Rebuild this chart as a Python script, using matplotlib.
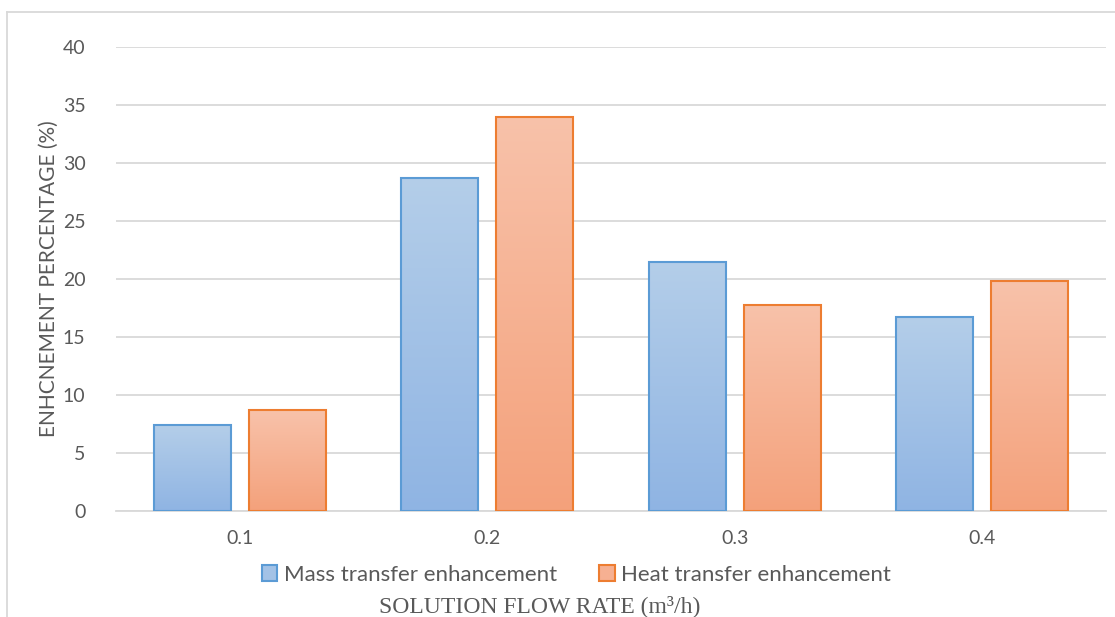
import numpy as np
import matplotlib
matplotlib.use("Agg")
import matplotlib.pyplot as plt
from matplotlib.colors import LinearSegmentedColormap
from matplotlib.patches import Patch
from matplotlib.lines import Line2D

categories = ["0.1", "0.2", "0.3", "0.4"]
mass_transfer = [7.4, 28.7, 21.5, 16.7]
heat_transfer = [8.7, 34.0, 17.8, 19.8]
series_names = ["Mass transfer enhancement", "Heat transfer enhancement"]
yticks = [0, 5, 10, 15, 20, 25, 30, 35, 40]

plt.rcParams['font.family'] = ['Lato', 'DejaVu Sans']

fig = plt.figure(figsize=(11.15, 6.17), dpi=100)
ax = fig.add_axes([116/1115, 1 - 511/617, 990/1115, 464/617])

x = np.arange(len(categories))
width = 0.311
gap = 0.073
off = (width + gap) / 2

blue_cmap = LinearSegmentedColormap.from_list("b", ["#8fb4e3", "#b4cee9"])
orange_cmap = LinearSegmentedColormap.from_list("o", ["#f4a17b", "#f8c2aa"])
grad = np.linspace(0, 1, 256).reshape(-1, 1)

def draw(xs, vals, cmap, edge):
    bars = ax.bar(xs, vals, width, facecolor="none", edgecolor=edge, linewidth=1.5, zorder=3)
    for b in bars:
        x0, w, h = b.get_x(), b.get_width(), b.get_height()
        im = ax.imshow(grad, cmap=cmap, origin="lower", aspect="auto",
                       extent=[x0, x0 + w, 0, h], zorder=2.5)
        im.set_clip_path(b)
    return bars

draw(x - off, mass_transfer, blue_cmap, "#5b9bd5")
draw(x + off, heat_transfer, orange_cmap, "#ed7d31")

ax.set_xlim(-0.5, 3.5)
ax.set_ylim(0, 40)
ax.set_yticks(yticks)
ax.set_xticks(x)
ax.set_xticklabels(categories)
ax.grid(axis="y", color="#d9d9d9", linewidth=1.3, zorder=0)
ax.set_axisbelow(True)
for s in ["top", "right", "left"]:
    ax.spines[s].set_visible(False)
ax.spines["bottom"].set_color("#d9d9d9")
ax.spines["bottom"].set_linewidth(1.3)
ax.tick_params(axis="both", length=0, labelsize=14, colors="#595959")
ax.tick_params(axis="x", pad=14)
ax.tick_params(axis="y", pad=22)

ax.set_ylabel("ENHCNEMENT PERCENTAGE (%)", fontsize=15, color="#595959", labelpad=3)

handles = [Patch(facecolor="#a3c2e6", edgecolor="#5b9bd5", linewidth=1.5),
           Patch(facecolor="#f6b092", edgecolor="#ed7d31", linewidth=1.5)]
fig.legend(handles, series_names, loc="center", bbox_to_anchor=(0.517, 0.068),
           ncol=2, frameon=False, fontsize=16, handlelength=0.7, handleheight=0.7,
           handletextpad=0.3, columnspacing=1.9, labelcolor="#595959")

fig.text(0.484, 0.018, "SOLUTION FLOW RATE (m³/h)", ha="center", va="center",
         fontsize=17, color="#595959", family="Liberation Serif")

fig.add_artist(Line2D([7/1115, 1.0], [1 - 12/617, 1 - 12/617], transform=fig.transFigure,
                      color="#d9d9d9", linewidth=1.3))
fig.add_artist(Line2D([7/1115, 7/1115], [0, 1 - 12/617], transform=fig.transFigure,
                      color="#d9d9d9", linewidth=1.3))

fig.savefig("out.png", dpi=100)
